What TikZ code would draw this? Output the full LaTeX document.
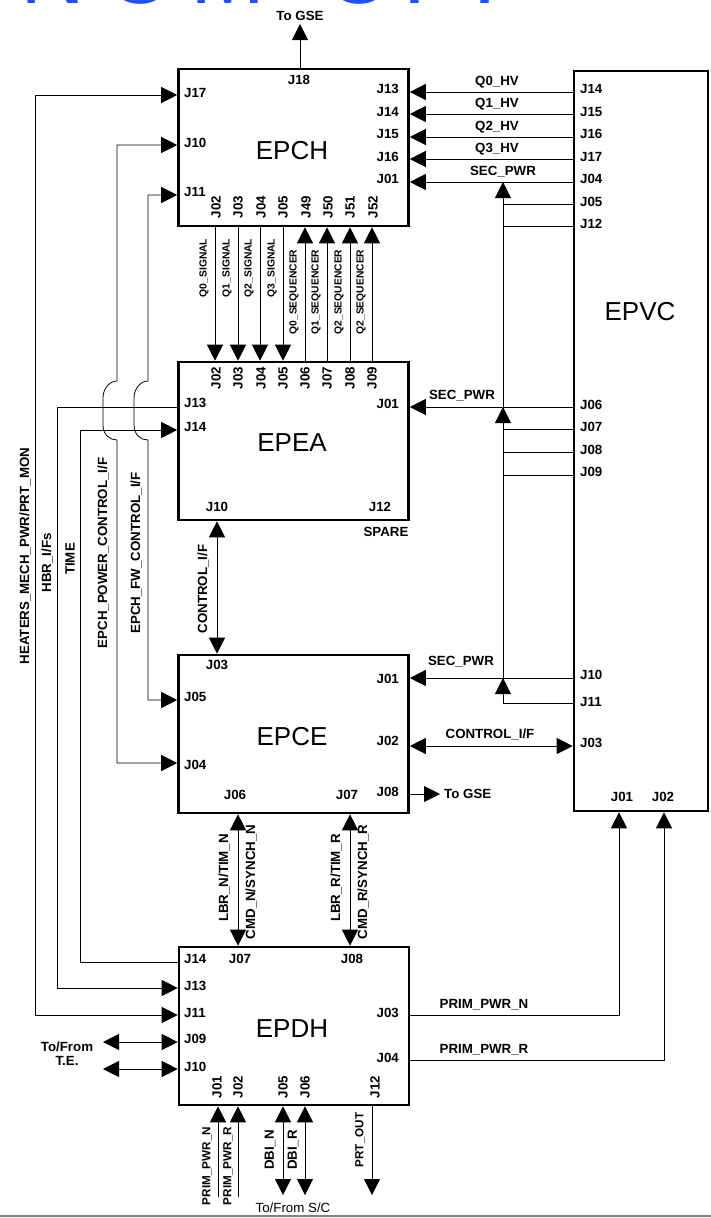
\documentclass[tikz,border=0pt]{standalone}
\usepackage{fontspec}
\setmainfont{Liberation Sans}
\usetikzlibrary{arrows.meta,calc}
\definecolor{titleblue}{RGB}{30,80,255}
\tikzset{
  box/.style={draw, line width=2.6pt, inner sep=0pt, minimum width=230pt, minimum height=157pt},
  lab/.style={font=\bfseries\fontsize{13.3}{15}\selectfont, inner sep=0pt},
  slab/.style={font=\bfseries\fontsize{10.3}{12}\selectfont, inner sep=0pt},
  mlab/.style={font=\bfseries\fontsize{11.7}{13}\selectfont, inner sep=0pt},
  big/.style={font=\fontsize{26}{30}\selectfont, inner sep=0pt},
  conn/.style={line width=0.8pt},
  ar/.style={conn, -{Triangle[length=16pt,width=16pt]}},
  dbl/.style={conn, {Triangle[length=16pt,width=16pt]}-{Triangle[length=16pt,width=16pt]}},
}
\begin{document}
\begin{tikzpicture}[x=1pt,y=-1pt]
\useasboundingbox (0,0) rectangle (711,1218);
\fill[white] (0,0) rectangle (711,1218);
% cut-off title (only the bottom edge of its letters is visible)
\begin{scope}
\clip (0,0) rectangle (711,4);
\node[anchor=base west, inner sep=0pt, text=titleblue, font=\fontsize{90}{90}\selectfont] (title) at (9.5,3)
  {\makebox[87pt]{N}\makebox[87pt]{O}\makebox[89pt]{M}\hspace{58.5pt}\makebox[56pt]{O}\makebox[56pt]{T}\makebox[84pt]{I}};
\end{scope}

% boxes
\node[box] (epch) at (293.5,147.5) {};
\node[box, minimum height=158pt] (epea) at (293.5,441) {};
\node[box, minimum height=158pt] (epce) at (293.5,734) {};
\node[box, minimum height=158pt] (epdh) at (294,1026) {};
\node[box, minimum width=134pt, minimum height=740pt] (epvc) at (641,441) {};

\node[big] (tepch) at (292,151) {EPCH};
\node[big] (tepea) at (292,443) {EPEA};
\node[big] (tepce) at (292,737) {EPCE};
\node[big] (tepdh) at (292,1029) {EPDH};
\node[big] (tepvc) at (640,312) {EPVC};

% ---------- EPCH port labels
\node[lab] (ch18) at (299,80) {J18};
\node[lab, anchor=west] (ch17) at (184,93) {J17};
\node[lab, anchor=west] (ch10) at (184,143) {J10};
\node[lab, anchor=west] (ch11) at (184,192) {J11};
\node[lab, anchor=east] (ch13) at (399,89) {J13};
\node[lab, anchor=east] (ch14) at (399,112) {J14};
\node[lab, anchor=east] (ch15) at (399,134) {J15};
\node[lab, anchor=east] (ch16) at (399,157) {J16};
\node[lab, anchor=east] (ch01) at (399,179) {J01};
\foreach \x/\n in {216/J02,238/J03,261/J04,283/J05,306/J49,328/J50,350/J51,373/J52}
  \node[lab, rotate=90] (chb\n) at (\x,207) {\n};

% ---------- EPEA port labels
\foreach \x/\n in {216/J02,238/J03,261/J04,283/J05,305/J06,327/J07,350/J08,372/J09}
  \node[lab, rotate=90] (eat\n) at (\x,378) {\n};
\node[lab, anchor=west] (ea13) at (184,403) {J13};
\node[lab, anchor=west] (ea14) at (184,427) {J14};
\node[lab, anchor=east] (ea01) at (399,404) {J01};
\node[lab] (ea10) at (217,507) {J10};
\node[lab] (ea12) at (380,507) {J12};
\node[lab] (spare) at (386,532) {SPARE};

% ---------- EPCE port labels
\node[lab] (ce03) at (217,665) {J03};
\node[lab, anchor=west] (ce05) at (184,697) {J05};
\node[lab, anchor=west] (ce04) at (184,765) {J04};
\node[lab, anchor=east] (ce01) at (399,679) {J01};
\node[lab, anchor=east] (ce02) at (399,741) {J02};
\node[lab, anchor=east] (ce08) at (399,792) {J08};
\node[lab] (ce06) at (235,795) {J06};
\node[lab] (ce07) at (347,795) {J07};

% ---------- EPDH port labels
\node[lab, anchor=west] (dh14) at (184,959) {J14};
\node[lab] (dh07) at (240,959) {J07};
\node[lab] (dh08) at (352,959) {J08};
\node[lab, anchor=west] (dh13) at (184,986) {J13};
\node[lab, anchor=west] (dh11) at (184,1013) {J11};
\node[lab, anchor=west] (dh09) at (184,1039) {J09};
\node[lab, anchor=west] (dh10) at (184,1067) {J10};
\node[lab, anchor=east] (dh03) at (399,1013) {J03};
\node[lab, anchor=east] (dh04) at (399,1058) {J04};
\foreach \x/\n in {217/J01,238/J02,283/J05,305/J06,375/J12}
  \node[lab, rotate=90] (dhb\n) at (\x,1087) {\n};

% ---------- EPVC port labels
\foreach \y/\n in {89/J14,112/J15,134/J16,157/J17,179/J04,202/J05,224/J12,405/J06,427/J07,450/J08,472/J09,675/J10,702/J11,743/J03}
  \node[lab, anchor=west] (vc\n) at (580,\y) {\n};
\node[lab] (vcJ01) at (622,797) {J01};
\node[lab] (vcJ02) at (663,797) {J02};

% ---------- To GSE (top)
\coordinate (gsetop) at (300,24);
\draw[ar] (epch.north -| gsetop) -- (gsetop);
\node[lab] (tgse1) at (300,15.5) {To GSE};

% ---------- EPVC -> EPCH
\foreach \y in {92,114,137,159,182}
  \draw[ar] (epvc.west |- 0,\y) -- (epch.east |- 0,\y);
\node[lab] (q0hv) at (497,82) {Q0\_HV};
\node[lab] (q1hv) at (497,104) {Q1\_HV};
\node[lab] (q2hv) at (497,127) {Q2\_HV};
\node[lab] (q3hv) at (497,149) {Q3\_HV};
\node[lab] (sp1) at (503,172) {SEC\_PWR};

% ---------- secondary power bus
\coordinate (busA) at (503,182);
\coordinate (busB) at (503,407);
\coordinate (busC) at (503,678);
\coordinate (busD) at (503,703);
\draw[conn] (busD) -- (busA);
\draw[ar] ($(busA)+(0,18)$) -- (busA);
\draw[ar] ($(busB)+(0,18)$) -- (busB);
\draw[ar] ($(busC)+(0,18)$) -- (busC);
\foreach \y in {204,226,429,452,475}
  \draw[conn] (epvc.west |- 0,\y) -- (busA |- 0,\y);
\draw[conn] (epvc.west |- busD) -- (busD);

% ---------- SEC_PWR to EPEA and EPCE
\draw[ar] (epvc.west |- busB) -- (epea.east |- busB);
\node[lab] (sp2) at (462,396) {SEC\_PWR};
\draw[ar] (epvc.west |- busC) -- (epce.east |- busC);
\node[lab] (sp3) at (461,662) {SEC\_PWR};

% ---------- CONTROL_I/F EPCE <-> EPVC
\draw[dbl] (epce.east |- 0,746) -- (epvc.west |- 0,746);
\node[lab] (cif2) at (490,734) {CONTROL\_I/F};

% ---------- To GSE from EPCE
\coordinate (gse2) at (440,794);
\draw[ar] (epce.east |- gse2) -- (gse2);
\node[lab, anchor=west] (tgse2) at (444,794) {To GSE};

% ---------- primary power EPDH -> EPVC
\draw[ar] (epdh.east |- 0,1015) -| (epvc.south -| 619,0);
\draw[ar] (epdh.east |- 0,1060) -| (epvc.south -| 664,0);
\node[lab] (ppn) at (484,1005) {PRIM\_PWR\_N};
\node[lab] (ppr) at (484,1050) {PRIM\_PWR\_R};

% ---------- EPCH <-> EPEA
\foreach \x in {215,238,260,283}
  \draw[ar] (epch.south -| \x,0) -- (epea.north -| \x,0);
\foreach \x in {305,327,350,372}
  \draw[ar] (epea.north -| \x,0) -- (epch.south -| \x,0);
\node[slab, rotate=90] (s0) at (204,268) {Q0\_SIGNAL};
\node[slab, rotate=90] (s1) at (227,268) {Q1\_SIGNAL};
\node[slab, rotate=90] (s2) at (249,268) {Q2\_SIGNAL};
\node[slab, rotate=90] (s3) at (272,268) {Q3\_SIGNAL};
\node[slab, rotate=90] (q0s) at (294,292) {Q0\_SEQUENCER};
\node[slab, rotate=90] (q1s) at (316,292) {Q1\_SEQUENCER};
\node[slab, rotate=90] (q2s) at (339,292) {Q2\_SEQUENCER};
\node[slab, rotate=90] (q2sb) at (361,292) {Q2\_SEQUENCER};

% ---------- EPEA <-> EPCE control
\draw[dbl] (epea.south -| 217,0) -- (epce.north -| 217,0);
\node[lab, rotate=90] (cif1) at (203,589) {CONTROL\_I/F};

% ---------- EPCE <-> EPDH
\draw[dbl] (epce.south -| 238,0) -- (epdh.north -| 238,0);
\draw[dbl] (epce.south -| 350,0) -- (epdh.north -| 350,0);
\node[lab, rotate=90] (lbrn) at (224,878) {LBR\_N/TIM\_N};
\node[lab, rotate=90] (cmdn) at (251,882) {CMD\_N/SYNCH\_N};
\node[lab, rotate=90] (lbrr) at (336,878) {LBR\_R/TIM\_R};
\node[lab, rotate=90] (cmdr) at (363,882) {CMD\_R/SYNCH\_R};

% ---------- left side harness
\draw[dbl] (epch.west |- 0,95) -- (35,95) -- (35,1015) -- (epdh.west |- 0,1015);
\draw[ar] (epea.west |- 0,407) -- (57,407) -- (57,988) -- (epdh.west |- 0,988);
\draw[ar] (epdh.west |- 0,962) -- (80,962) -- (80,430) -- (epea.west |- 0,430);
\draw[dbl] (epch.west |- 0,145) -- (117,145) -- (117,381)
   .. controls (110,381) and (103,388) .. (103,398) -- (103,425)
   .. controls (103,435) and (110,440) .. (117,440) -- (117,763) -- (epce.west |- 0,763);
\draw[dbl] (epch.west |- 0,195) -- (148,195) -- (148,381)
   .. controls (141,381) and (134,388) .. (134,398) -- (134,425)
   .. controls (134,435) and (141,440) .. (148,440) -- (148,700) -- (epce.west |- 0,700);
\node[lab, rotate=90] (heat) at (25,556) {HEATERS\_MECH\_PWR/PRT\_MON};
\node[lab, rotate=90] (hbr) at (47,563) {HBR\_I/Fs};
\node[lab, rotate=90] (time) at (70,559) {TIME};
\node[lab, rotate=90] (epcp) at (103,553) {EPCH\_POWER\_CONTROL\_I/F};
\node[lab, rotate=90] (epcf) at (136,553) {EPCH\_FW\_CONTROL\_I/F};

% ---------- To/From T.E.
\coordinate (te1) at (103,1042);
\coordinate (te2) at (103,1069);
\draw[dbl] (te1) -- (epdh.west |- te1);
\draw[dbl] (te2) -- (epdh.west |- te2);
\node[lab, align=center, font=\bfseries\fontsize{13.3}{14}\selectfont] (te) at (67,1054) {To/From\\T.E.};

% ---------- EPDH bottom
\coordinate (pn) at (218,1197);
\coordinate (pr) at (238,1197);
\draw[ar] (pn) -- (epdh.south -| pn);
\draw[ar] (pr) -- (epdh.south -| pr);
\node[mlab, rotate=90] (lpn) at (207,1166) {PRIM\_PWR\_N};
\node[mlab, rotate=90] (lpr) at (228,1166) {PRIM\_PWR\_R};
\coordinate (dn) at (283,1195);
\coordinate (dr) at (305,1195);
\coordinate (po) at (372,1195);
\draw[dbl] (epdh.south -| dn) -- (dn);
\draw[dbl] (epdh.south -| dr) -- (dr);
\draw[ar] (epdh.south -| po) -- (po);
\node[lab, rotate=90] (ldn) at (270,1150) {DBI\_N};
\node[lab, rotate=90] (ldr) at (293,1150) {DBI\_R};
\node[mlab, rotate=90] (lpo) at (360,1140) {PRT\_OUT};
\node[inner sep=0pt, font=\fontsize{13.3}{15}\selectfont] (tsc) at (293,1208) {To/From S/C};

% bottom rule
\draw[gray, line width=1.5pt] (0,1216) -- (711,1216);
\end{tikzpicture}
\end{document}
